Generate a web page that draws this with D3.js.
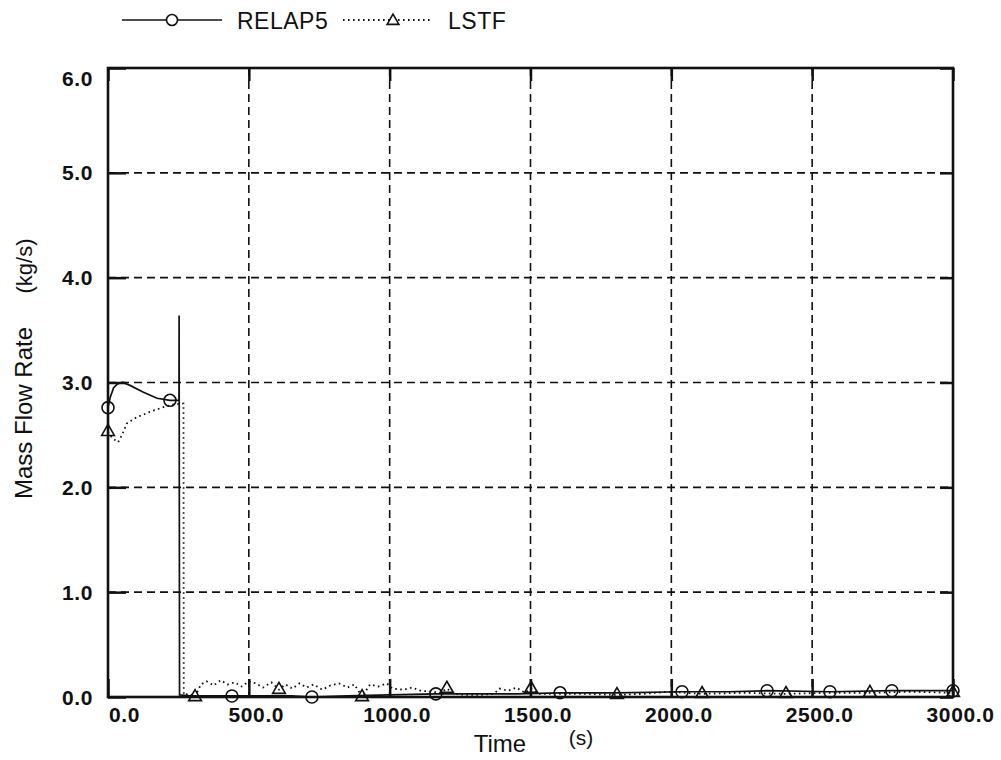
<!DOCTYPE html>
<html lang="en">
<head>
    <meta charset="UTF-8">
    <title>Mass Flow Rate</title>
    <script src="https://d3js.org/d3.v7.min.js"></script>
    <style>
        body {
            margin: 0;
            background: #fff;
        }
        svg {
            display: block;
            font-family: "Liberation Sans", Arial, sans-serif;
        }
        .axis .tick text {
            font-size: 21px;
            font-weight: bold;
            letter-spacing: 0.6px;
            fill: #111;
        }
        .axis .tick line {
            stroke: #111;
            stroke-width: 2.5;
        }
        .grid line {
            stroke: #111;
            stroke-width: 1.6;
            stroke-dasharray: 8,5;
        }
    </style>
</head>
<body>
<svg id="chart" width="1001" height="760"></svg>
<script>
    // RELAP5 calculation (solid line)
    const relapTime = [0, 8, 20, 35, 53, 80, 124, 174, 220, 252, 252.5, 254, 290, 350, 440, 550, 650, 724, 850, 1000,
                       1164, 1300, 1450, 1605, 1800, 2038, 2200, 2340, 2563, 2783, 3000];
    const relapRate = [2.76, 2.86, 2.95, 2.99, 3.00, 2.97, 2.91, 2.85, 2.83, 2.83, 3.64, 0.02, 0.01, 0.01, 0.01, 0.01, 0.01, 0.00, 0.01, 0.02,
                       0.03, 0.03, 0.03, 0.04, 0.04, 0.05, 0.05, 0.06, 0.05, 0.06, 0.06];
    const relapMarkTime = [0, 220, 440, 724, 1164, 1605, 2038, 2340, 2563, 2783, 3000];
    const relapMarkRate = [2.76, 2.83, 0.01, 0.00, 0.03, 0.04, 0.05, 0.06, 0.05, 0.06, 0.06];

    // LSTF experiment (dotted line)
    const lstfTime = [0, 15, 36, 50, 67, 103, 149, 191, 230, 268, 269, 290, 309, 330, 350, 375, 400, 425, 450, 475,
                      500, 525, 550, 580, 607, 630, 655, 680, 705, 730, 760, 790, 820, 850, 875, 902, 930, 960, 990, 1010,
                      1050, 1080, 1110, 1150, 1180, 1203, 1230, 1270, 1320, 1370, 1390, 1420, 1450, 1480, 1502, 1530, 1600, 1700, 1807, 1900,
                      1990, 2109, 2250, 2407, 2550, 2705, 2850, 3000];
    const lstfRate = [2.53, 2.47, 2.43, 2.50, 2.61, 2.67, 2.72, 2.76, 2.79, 2.80, 0.02, 0.03, 0.00, 0.12, 0.15, 0.11, 0.16, 0.12, 0.14, 0.10,
                      0.15, 0.13, 0.09, 0.14, 0.07, 0.12, 0.08, 0.13, 0.09, 0.12, 0.07, 0.11, 0.13, 0.09, 0.12, 0.00, 0.12, 0.10, 0.13, 0.08,
                      0.07, 0.09, 0.06, 0.05, 0.04, 0.08, 0.03, 0.02, 0.02, 0.03, 0.08, 0.06, 0.09, 0.04, 0.08, 0.03, 0.03, 0.03, 0.02, 0.03,
                      0.05, 0.03, 0.04, 0.03, 0.04, 0.04, 0.05, 0.04];
    const lstfMarkTime = [0, 309, 607, 902, 1203, 1502, 1807, 2109, 2407, 2705, 3000];
    const lstfMarkRate = [2.53, 0.00, 0.07, 0.00, 0.08, 0.08, 0.02, 0.03, 0.03, 0.04, 0.04];

    const seriesNames = ["RELAP5", "LSTF"];
    const timeTicks = [0, 500, 1000, 1500, 2000, 2500, 3000];
    const timeLabels = ["0.0", "500.0", "1000.0", "1500.0", "2000.0", "2500.0", "3000.0"];
    const rateTicks = [0, 1, 2, 3, 4, 5, 6];
    const rateLabels = ["0.0", "1.0", "2.0", "3.0", "4.0", "5.0", "6.0"];

    const svg = d3.select("svg#chart");
    const width = +svg.attr("width");
    const height = +svg.attr("height");
    const margins = {"top": 68, "right": 48, "bottom": 63, "left": 108};
    const chartWidth = width - margins.left - margins.right;
    const chartHeight = height - margins.top - margins.bottom;

    const timeScale = d3.scaleLinear().domain([0, 3000]).range([0, chartWidth]);
    const rateScale = d3.scaleLinear().domain([0, 6]).range([chartHeight, 0]);

    const plot = svg.append("g")
        .attr("transform", "translate(" + margins.left + "," + margins.top + ")");

    // dashed grid
    let grid = plot.append("g").attr("class", "grid");
    grid.selectAll("line.v").data(timeTicks.slice(1, -1)).join("line")
        .attr("class", "v")
        .attr("x1", d => timeScale(d)).attr("x2", d => timeScale(d))
        .attr("y1", 0).attr("y2", chartHeight);
    grid.selectAll("line.h").data(rateTicks.slice(1, -1)).join("line")
        .attr("class", "h")
        .attr("x1", 0).attr("x2", chartWidth)
        .attr("y1", d => rateScale(d)).attr("y2", d => rateScale(d));

    // series
    const relapData = relapTime.map((t, i) => ({t: t, v: relapRate[i]}));
    const lstfData = lstfTime.map((t, i) => ({t: t, v: lstfRate[i]}));
    const line = d3.line().x(d => timeScale(d.t)).y(d => rateScale(d.v));

    plot.append("path").datum(lstfData)
        .attr("d", line)
        .attr("fill", "none")
        .attr("stroke", "#111")
        .attr("stroke-width", 1.8)
        .attr("stroke-dasharray", "1.6,3.4");

    plot.append("path").datum(relapData)
        .attr("d", line)
        .attr("fill", "none")
        .attr("stroke", "#111")
        .attr("stroke-width", 1.7);

    // markers
    plot.selectAll("circle.relap").data(relapMarkTime).join("circle")
        .attr("class", "relap")
        .attr("cx", d => timeScale(d))
        .attr("cy", (d, i) => rateScale(relapMarkRate[i]))
        .attr("r", 6)
        .attr("fill", "none")
        .attr("stroke", "#111")
        .attr("stroke-width", 1.6);

    const tri = d3.symbol(d3.symbolTriangle).size(70);
    plot.selectAll("path.lstf").data(lstfMarkTime).join("path")
        .attr("class", "lstf")
        .attr("d", tri)
        .attr("transform", (d, i) => "translate(" + timeScale(d) + "," + rateScale(lstfMarkRate[i]) + ")")
        .attr("fill", "none")
        .attr("stroke", "#111")
        .attr("stroke-width", 1.6);

    // axes with inward ticks
    let leftAxis = d3.axisLeft(rateScale)
        .tickValues(rateTicks)
        .tickSize(-18)
        .tickPadding(15)
        .tickFormat((d, i) => rateLabels[i]);
    plot.append("g").attr("class", "axis").call(leftAxis)
        .call(g => g.select(".domain").remove())
        .selectAll(".tick text")
        .attr("dy", d => d === 6 ? "0.84em" : "0.34em");

    let bottomAxis = d3.axisBottom(timeScale)
        .tickValues(timeTicks)
        .tickSize(-18)
        .tickPadding(10)
        .tickFormat((d, i) => timeLabels[i]);
    plot.append("g").attr("class", "axis")
        .attr("transform", "translate(0," + chartHeight + ")")
        .call(bottomAxis)
        .call(g => g.select(".domain").remove())
        .selectAll(".tick text")
        .attr("dx", d => d === 0 ? 16 : 7);

    plot.append("g").attr("class", "axis")
        .call(d3.axisTop(timeScale).tickValues(timeTicks).tickSize(-13).tickFormat(""))
        .call(g => g.select(".domain").remove());

    plot.append("g").attr("class", "axis")
        .attr("transform", "translate(" + chartWidth + ",0)")
        .call(d3.axisRight(rateScale).tickValues(rateTicks).tickSize(-13).tickFormat(""))
        .call(g => g.select(".domain").remove());

    // frame
    plot.append("rect")
        .attr("width", chartWidth)
        .attr("height", chartHeight)
        .attr("fill", "none")
        .attr("stroke", "#111")
        .attr("stroke-width", 2.6);

    // axis titles
    svg.append("text")
        .attr("x", 500).attr("y", 752)
        .attr("text-anchor", "middle")
        .attr("font-size", 24)
        .attr("fill", "#111")
        .text("Time");
    svg.append("text")
        .attr("x", 581).attr("y", 745)
        .attr("text-anchor", "middle")
        .attr("font-size", 21)
        .attr("fill", "#111")
        .text("(s)");

    svg.append("text")
        .attr("transform", "translate(32,413) rotate(-90)")
        .attr("text-anchor", "middle")
        .attr("font-size", 24)
        .attr("fill", "#111")
        .text("Mass Flow Rate");
    svg.append("text")
        .attr("transform", "translate(32,266) rotate(-90)")
        .attr("text-anchor", "middle")
        .attr("font-size", 22)
        .attr("fill", "#111")
        .text("(kg/s)");

    // legend
    let legend = svg.append("g").attr("transform", "translate(0,20)");
    legend.append("line")
        .attr("x1", 122).attr("x2", 222).attr("y1", 0).attr("y2", 0)
        .attr("stroke", "#111").attr("stroke-width", 1.7);
    legend.append("circle")
        .attr("cx", 172).attr("cy", 0).attr("r", 5.5)
        .attr("fill", "#fff").attr("stroke", "#111").attr("stroke-width", 1.6);
    legend.append("text")
        .attr("x", 237).attr("y", 9)
        .attr("font-size", 23)
        .attr("letter-spacing", 0.5)
        .attr("fill", "#111")
        .text(seriesNames[0]);

    legend.append("line")
        .attr("x1", 343).attr("x2", 432).attr("y1", 0).attr("y2", 0)
        .attr("stroke", "#111").attr("stroke-width", 1.8)
        .attr("stroke-dasharray", "1.6,3.4");
    legend.append("path")
        .attr("d", d3.symbol(d3.symbolTriangle).size(60))
        .attr("transform", "translate(393,1)")
        .attr("fill", "#fff").attr("stroke", "#111").attr("stroke-width", 1.6);
    legend.append("text")
        .attr("x", 448).attr("y", 9)
        .attr("font-size", 23)
        .attr("letter-spacing", 0.5)
        .attr("fill", "#111")
        .text(seriesNames[1]);
</script>
</body>
</html>
